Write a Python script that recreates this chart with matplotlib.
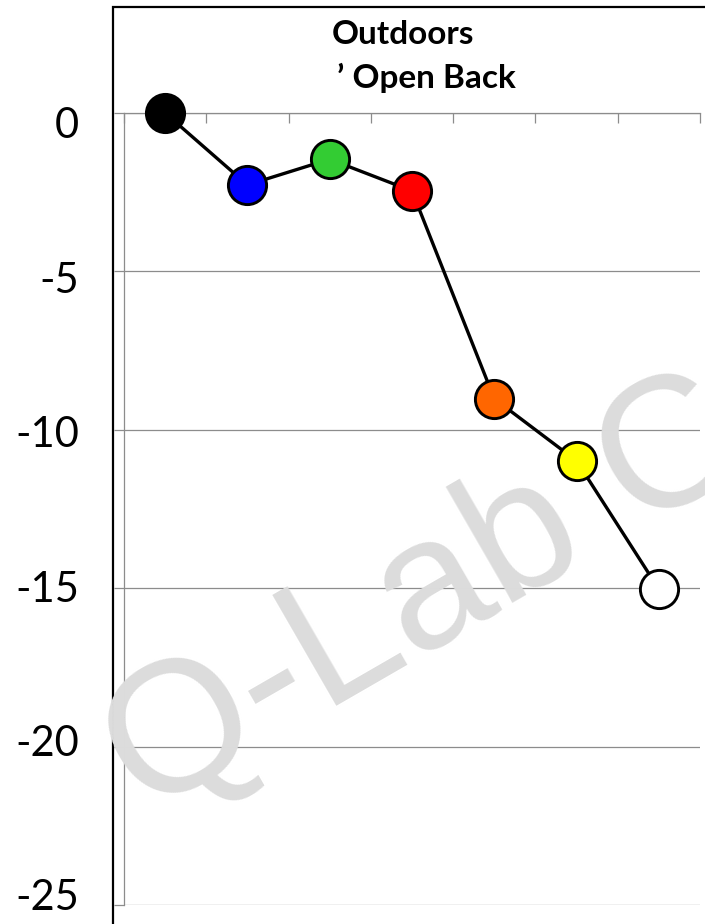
import numpy as np
import matplotlib
matplotlib.use("Agg")
import matplotlib.pyplot as plt
import matplotlib.transforms as mtransforms
from matplotlib.patches import Rectangle

# values (one point per category)
positions = [1, 2, 3, 4, 5, 6, 7]
values = [0.0, -2.27, -1.46, -2.46, -9.02, -10.98, -15.03]
marker_colors = ["#000000", "#0000ff", "#33cc33", "#ff0000", "#ff6600", "#ffff00", "#ffffff"]
ytick_values = [0, -5, -10, -15, -20, -25]
ytick_labels = ["0", "-5", "-10", "-15", "-20", "-25"]
title_line1 = "Outdoors"
title_line2 = "\u2019 Open Back"
watermark = "Q-Lab C"

W, H = 705, 924
fig = plt.figure(figsize=(W / 100, H / 100), dpi=100)

# outer chart frame (cut off at the right and bottom edges)
fig.patches.append(Rectangle((113 / W, -0.1), 1.0, 1.1 - 7 / H, transform=fig.transFigure,
                             fill=False, edgecolor="black", lw=1.6, zorder=0))

ax = fig.add_axes([124 / W, (H - 905) / H, 576 / W, 792 / H])
ax.set_xlim(0.5, 7.5)
ax.set_ylim(-25, 0)

grid_c = "#8c8c8c"
for s in ["top", "right"]:
    ax.spines[s].set_visible(False)
ax.spines["left"].set_color(grid_c)
ax.spines["bottom"].set_color(grid_c)
ax.spines["bottom"].set_position(("data", 0))
ax.spines["left"].set_linewidth(0.9)
ax.spines["bottom"].set_linewidth(0.9)

ax.set_yticks(ytick_values)
ax.set_yticklabels(ytick_labels, fontsize=30, family="Lato")
ax.set_xticks(np.arange(0.5, 8.0, 1.0))
ax.set_xticklabels([])
ax.tick_params(axis="y", direction="out", length=7.5, width=0.9, color=grid_c, pad=25)
ax.tick_params(axis="x", direction="out", length=7, width=0.9, color=grid_c)
ax.grid(axis="y", color=grid_c, lw=0.9)
ax.set_axisbelow(True)

# the labels are spaced a bit tighter than the gridlines
for i, lab in enumerate(ax.get_yticklabels()):
    dy = (10 - 4 * i) / 100
    lab.set_transform(lab.get_transform() + mtransforms.ScaledTranslation(0, -dy, fig.dpi_scale_trans))

# watermark
fig.text(145 / W, (H - 817) / H, watermark, rotation=30, rotation_mode="anchor",
         ha="left", va="baseline", fontsize=134, family="Liberation Sans",
         color="#dcdcdc", zorder=0.5)

ax.plot(positions, values, color="black", lw=2.4, zorder=3, clip_on=False)
for x, y, c in zip(positions, values, marker_colors):
    ax.plot(x, y, marker="o", ms=27.5, markerfacecolor=c, markeredgecolor="black",
            markeredgewidth=2.1, zorder=4, clip_on=False)

fig.text(332 / W, (H - 35) / H, title_line1, fontsize=24, fontweight="bold",
         family="Lato", ha="left", va="center")
fig.text(337 / W, (H - 78) / H, title_line2, fontsize=24, fontweight="bold",
         family="Lato", ha="left", va="center")

fig.savefig("out.png", dpi=100)
